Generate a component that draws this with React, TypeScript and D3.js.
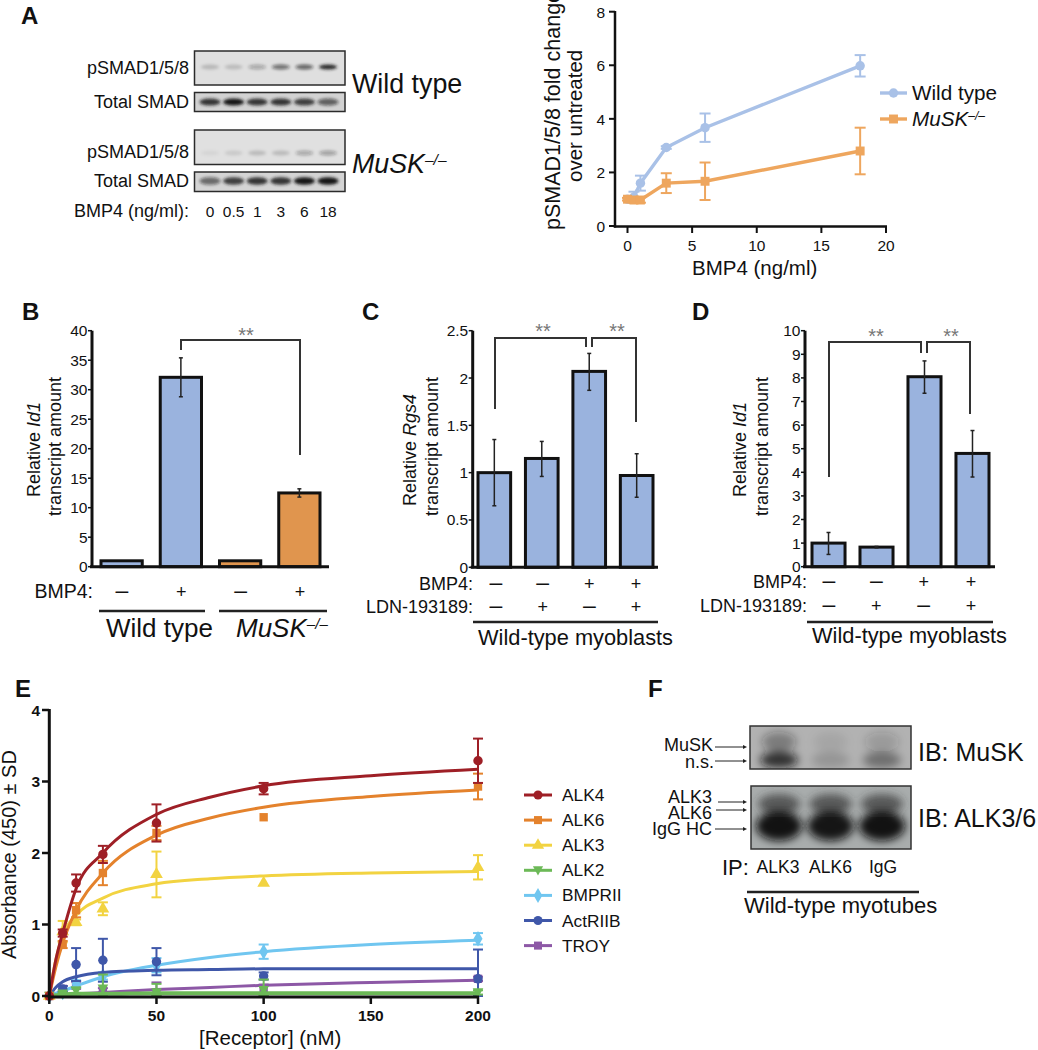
import React from "react";
import * as d3 from "d3";

const FONT = "'Liberation Sans', Arial, sans-serif";
const BLUE = "#9ab3de", ORANGE = "#e0954e", LBLUE = "#a9c1e7", LORANGE = "#eea65e";

// Panel A blots
const doseLabels = ["0", "0.5", "1", "3", "6", "18"];
const wtPhospho = [0.18, 0.16, 0.28, 0.55, 0.6, 0.92];
const wtTotal = [0.85, 1, 0.85, 0.85, 0.8, 0.6];
const koPhospho = [0.05, 0.1, 0.17, 0.17, 0.28, 0.32];
const koTotal = [0.55, 0.8, 0.85, 0.85, 1, 1];

// Panel A line chart
const doses = [0, 0.5, 1, 3, 6, 18];
const wtFold = [1, 1.08, 1.6, 2.93, 3.67, 5.98];
const wtFoldErr = [0, 0.2, 0.28, 0.05, 0.53, 0.4];
const koFold = [1, 0.97, 0.97, 1.6, 1.67, 2.8];
const koFoldErr = [0.05, 0.1, 0.1, 0.37, 0.7, 0.87];

// Panel B
const bVals = [1, 32.1, 1, 12.5];
const bLow = [1, 28.8, 1, 11.8];
const bHigh = [1, 35.4, 1, 13.2];
const bSigns = ["–", "+", "–", "+"];
const bColors = [BLUE, BLUE, ORANGE, ORANGE];

// Panel C
const cVals = [1, 1.15, 2.07, 0.97];
const cLow = [0.65, 0.96, 1.87, 0.74];
const cHigh = [1.35, 1.33, 2.26, 1.2];

// Panel D
const dVals = [1, 0.83, 8.05, 4.8];
const dLow = [0.52, 0.8, 7.35, 3.8];
const dHigh = [1.45, 0.86, 8.72, 5.77];

const bmpSigns = ["–", "–", "+", "+"];
const ldnSigns = ["–", "+", "–", "+"];

// Panel E
const concPts = [0, 6.25, 12.5, 25, 50, 100, 200];
const curveX = [0, 3, 6.25, 12.5, 25, 50, 75, 100, 150, 200];
const receptors = ["ALK4", "ALK6", "ALK3", "ALK2", "BMPRII", "ActRIIB", "TROY"];
const drawOrder = [6, 4, 5, 3, 2, 1, 0];
const recColors = ["#9e1f26", "#e4822c", "#f2d341", "#6cb957", "#70c6f0", "#3f57a9", "#8d58a6"];
const recSymbols = [d3.symbolCircle, d3.symbolSquare, d3.symbolTriangle, "down", d3.symbolDiamond, d3.symbolCircle, d3.symbolSquare];
const alk4Pts = [0, 0.88, 1.58, 1.98, 2.42, 2.9, 3.29];
const alk4Err = [0, 0.05, 0.12, 0.12, 0.26, 0.08, 0.31];
const alk4Fit = [0, 0.5, 0.88, 1.5, 2.0, 2.54, 2.78, 2.94, 3.08, 3.17];
const alk6Pts = [0, 0.72, 1.2, 1.72, 2.28, 2.5, 2.93];
const alk6Err = [0, 0.05, 0.1, 0.17, 0.1, 0, 0.18];
const alk6Fit = [0, 0.4, 0.74, 1.2, 1.72, 2.25, 2.49, 2.64, 2.79, 2.88];
const alk3Pts = [0, 0.9, 1.03, 1.22, 1.7, 1.58, 1.8];
const alk3Err = [0, 0.15, 0.04, 0.09, 0.32, 0, 0.17];
const alk3Fit = [0, 0.5, 0.85, 1.13, 1.37, 1.57, 1.64, 1.68, 1.72, 1.74];
const alk2Pts = [0, 0.03, 0.07, 0.1, 0.05, 0.08, 0.05];
const alk2Err = [0, 0.02, 0.05, 0.2, 0.12, 0.15, 0.03];
const alk2Fit = [0, 0.01, 0.02, 0.03, 0.03, 0.04, 0.04, 0.04, 0.04, 0.04];
const bmprPts = [0, 0.05, 0.17, 0.28, 0.43, 0.62, 0.8];
const bmprErr = [0, 0.03, 0.05, 0.05, 0.1, 0.1, 0.08];
const bmprFit = [0, 0.04, 0.07, 0.14, 0.27, 0.43, 0.54, 0.62, 0.72, 0.78];
const actrPts = [0, 0.1, 0.44, 0.5, 0.48, 0.28, 0.24];
const actrErr = [0, 0.04, 0.23, 0.3, 0.19, 0.05, 0.41];
const actrFit = [0, 0.12, 0.2, 0.27, 0.33, 0.36, 0.37, 0.38, 0.38, 0.38];
const troyPts = [0, 0.1, 0.15, 0.08, 0.05, 0.08, 0.24];
const troyErr = [0, 0.04, 0.05, 0.03, 0.14, 0.08, 0.03];
const troyFit = [0, 0.01, 0.02, 0.03, 0.05, 0.09, 0.12, 0.15, 0.19, 0.22];
const recPts = [alk4Pts, alk6Pts, alk3Pts, alk2Pts, bmprPts, actrPts, troyPts];
const recErr = [alk4Err, alk6Err, alk3Err, alk2Err, bmprErr, actrErr, troyErr];
const recFit = [alk4Fit, alk6Fit, alk3Fit, alk2Fit, bmprFit, actrFit, troyFit];

// Panel F
const ipLabels = ["ALK3", "ALK6", "IgG"];
const muskBand = [0.8, 0.16, 0.38];
const alkBand = [0.97, 0.95, 0.97];

const T = ({ x, y, s = 18, a = "start", w = 400, i = false, c = "#111", r, children }: any) => (
  <text x={x} y={y} fontSize={s} textAnchor={a} fontWeight={w} fontStyle={i ? "italic" : "normal"} fill={c}
    fontFamily={FONT} transform={r ? `rotate(${r} ${x} ${y})` : undefined}>{children}</text>
);

const Sign = ({ x, y, v }: any) => <T x={x} y={y} s={v === "+" ? 18 : 23} a="middle">{v}</T>;

const Musk = ({ x, y, s }: any) => (
  <text x={x} y={y} fontSize={s} fontStyle="italic" fill="#111" fontFamily={FONT}>
    MuSK<tspan fontSize={s * 0.58} dy={-s * 0.3}>–/–</tspan>
  </text>
);

const Blot = ({ id, x, y, w, h, bg, bands, centers, by, rx, ry }: any) => (
  <g>
    <clipPath id={id}><rect x={x} y={y} width={w} height={h} /></clipPath>
    <g clipPath={`url(#${id})`}>
      <rect x={x} y={y} width={w} height={h} fill={bg} />
      <g filter="url(#blur)">
        {bands.map((b: number, i: number) => (
          <ellipse key={i} cx={centers(i)} cy={by} rx={rx} ry={ry} fill="#151515" opacity={b} />
        ))}
      </g>
    </g>
    <rect x={x} y={y} width={w} height={h} fill="none" stroke="#2b2b2b" strokeWidth={1.5} />
  </g>
);

const Bars = ({ vals, low, high, colors, yMax, ticks, axisX, top, bottom, end, left, right }: any) => {
  const y = d3.scaleLinear().domain([0, yMax]).range([bottom, top]);
  const x = d3.scaleBand<number>().domain(d3.range(vals.length)).range([left, right]).paddingInner(0.27);
  return (
    <g>
      {vals.map((v: number, i: number) => (
        <rect key={i} x={x(i)! + 1} y={y(v)} width={x.bandwidth() - 2} height={bottom - y(v)}
          fill={colors[i]} stroke="#111" strokeWidth={3} />
      ))}
      {vals.map((v: number, i: number) => {
        const cx = x(i)! + x.bandwidth() / 2;
        if (high[i] === low[i]) return null;
        return (
          <g key={i} stroke="#222" strokeWidth={1.5}>
            <line x1={cx} x2={cx} y1={y(low[i])} y2={y(high[i])} />
            <line x1={cx - 2} x2={cx + 2} y1={y(low[i])} y2={y(low[i])} />
            <line x1={cx - 2} x2={cx + 2} y1={y(high[i])} y2={y(high[i])} />
          </g>
        );
      })}
      <line x1={axisX} x2={axisX} y1={top} y2={bottom + 1} stroke="#111" strokeWidth={3} />
      <line x1={axisX - 2} x2={end} y1={bottom} y2={bottom} stroke="#111" strokeWidth={3} />
      {ticks.map((t: number) => (
        <g key={t}>
          <line x1={axisX - 4} x2={axisX} y1={y(t)} y2={y(t)} stroke="#111" strokeWidth={1.5} />
          <T x={axisX - 4.5} y={y(t) + 5.5} s={15.5} a="end">{t}</T>
        </g>
      ))}
    </g>
  );
};

const Stars = ({ x, y }: any) => <T x={x} y={y} s={20} a="middle" c="#777">**</T>;
const Path = ({ d }: any) => <path d={d} fill="none" stroke="#333" strokeWidth={2} />;

const LineChart = () => {
  const x = d3.scaleLinear().domain([0, 20]).range([627.5, 886]);
  const y = d3.scaleLinear().domain([0, 8]).range([226, 11.7]);
  const line = d3.line<number>().x((_, i) => x(doses[i])).y((v) => y(v));
  const sym = (t: any, cx: number, cy: number, sz: number, c: string) => (
    <path d={d3.symbol().type(t).size(sz)() as string} transform={`translate(${cx},${cy})`} fill={c} />
  );
  const series = [
    { v: wtFold, e: wtFoldErr, c: LBLUE, t: d3.symbolCircle, z: 70 },
    { v: koFold, e: koFoldErr, c: LORANGE, t: d3.symbolSquare, z: 80 },
  ];
  return (
    <g>
      {series.map((s, k) => (
        <g key={k}>
          <path d={line(s.v) as string} fill="none" stroke={s.c} strokeWidth={3.4} />
          {s.v.map((v, i) => s.e[i] > 0 && (
            <g key={i} stroke={s.c} strokeWidth={2}>
              <line x1={x(doses[i])} x2={x(doses[i])} y1={y(v - s.e[i])} y2={y(v + s.e[i])} />
              <line x1={x(doses[i]) - 5.5} x2={x(doses[i]) + 5.5} y1={y(v - s.e[i])} y2={y(v - s.e[i])} />
              <line x1={x(doses[i]) - 5.5} x2={x(doses[i]) + 5.5} y1={y(v + s.e[i])} y2={y(v + s.e[i])} />
            </g>
          ))}
          {s.v.map((v, i) => <g key={i}>{sym(s.t, x(doses[i]), y(v), s.z, s.c)}</g>)}
        </g>
      ))}
      <line x1={615} x2={615} y1={11} y2={227.5} stroke="#111" strokeWidth={2.5} />
      <line x1={613.8} x2={887} y1={226.5} y2={226.5} stroke="#111" strokeWidth={2.5} />
      {y.ticks(4).map((t) => (
        <g key={t}>
          <line x1={609} x2={615} y1={y(t)} y2={y(t)} stroke="#111" strokeWidth={2} />
          <T x={605} y={y(t) + 6} s={15.5} a="end">{t}</T>
        </g>
      ))}
      {x.ticks(4).map((t) => (
        <g key={t}>
          <line x1={x(t)} x2={x(t)} y1={226} y2={233} stroke="#111" strokeWidth={2} />
          <T x={x(t)} y={251} s={15.5} a="middle">{t}</T>
        </g>
      ))}
      <T x={692} y={275} s={20.5}>BMP4 (ng/ml)</T>
      <T x={559.5} y={230} s={21.5} r={-90}>pSMAD1/5/8 fold change</T>
      <T x={582} y={182} s={20.5} r={-90}>over untreated</T>
      <line x1={880} x2={907} y1={93} y2={93} stroke={LBLUE} strokeWidth={3.4} />
      {sym(d3.symbolCircle, 893.5, 93, 70, LBLUE)}
      <line x1={880} x2={907} y1={119} y2={119} stroke={LORANGE} strokeWidth={3.4} />
      {sym(d3.symbolSquare, 893.5, 119, 80, LORANGE)}
      <T x={912} y={100} s={20.7}>Wild type</T>
      <Musk x={912} y={126} s={20.7} />
    </g>
  );
};

const downTri = {
  draw(ctx: any, size: number) {
    const h = Math.sqrt(size * 1.6);
    ctx.moveTo(-h / 2, -h * 0.4);
    ctx.lineTo(h / 2, -h * 0.4);
    ctx.lineTo(0, h * 0.5);
    ctx.closePath();
  },
};

const Binding = () => {
  const x = d3.scaleLinear().domain([0, 200]).range([49.3, 478]);
  const y = d3.scaleLinear().domain([0, 4]).range([996, 710]);
  const curve = d3.line<number>().x((_, i) => x(curveX[i])).y((v) => y(v)).curve(d3.curveMonotoneX);
  const sym = (k: number, sz: number) =>
    d3.symbol().type((recSymbols[k] === "down" ? downTri : recSymbols[k]) as any).size(sz)() as string;
  return (
    <g>
      {drawOrder.map((k) => (
        <g key={receptors[k]}>
          <path d={curve(recFit[k]) as string} fill="none" stroke={recColors[k]} strokeWidth={k === 3 ? 4 : 3} />
          {recPts[k].map((v, i) => recErr[k][i] > 0 && (
            <g key={i} stroke={recColors[k]} strokeWidth={2}>
              <line x1={x(concPts[i])} x2={x(concPts[i])} y1={Math.min(y(v - recErr[k][i]), 996)} y2={y(v + recErr[k][i])} />
              <line x1={x(concPts[i]) - 5} x2={x(concPts[i]) + 5} y1={Math.min(y(v - recErr[k][i]), 996)} y2={Math.min(y(v - recErr[k][i]), 996)} />
              <line x1={x(concPts[i]) - 5} x2={x(concPts[i]) + 5} y1={y(v + recErr[k][i])} y2={y(v + recErr[k][i])} />
            </g>
          ))}
          {recPts[k].map((v, i) => (
            <path key={i} d={sym(k, 70)} transform={`translate(${x(concPts[i])},${y(v)})`} fill={recColors[k]} />
          ))}
          <line x1={524} x2={552} y1={795 + k * 25.1} y2={795 + k * 25.1} stroke={recColors[k]} strokeWidth={3} />
          <path d={sym(k, 65)} transform={`translate(538,${795 + k * 25.1})`} fill={recColors[k]} />
          <T x={562} y={801 + k * 25.1} s={17.3}>{receptors[k]}</T>
        </g>
      ))}
      <line x1={49.3} x2={49.3} y1={709} y2={998} stroke="#111" strokeWidth={3} />
      <line x1={48} x2={479} y1={997} y2={997} stroke="#111" strokeWidth={3} />
      {y.ticks(4).map((t) => (
        <g key={t}>
          <line x1={42} x2={49} y1={y(t)} y2={y(t)} stroke="#111" strokeWidth={2.5} />
          <T x={40} y={y(t) + 5.5} s={15.5} a="end" w={700}>{t}</T>
        </g>
      ))}
      {x.ticks(4).map((t) => (
        <g key={t}>
          <line x1={x(t)} x2={x(t)} y1={997} y2={1004} stroke="#111" strokeWidth={2.5} />
          <T x={x(t)} y={1021} s={15.5} a="middle" w={700}>{t}</T>
        </g>
      ))}
      <T x={16} y={959} s={20} r={-90}>Absorbance (450) ± SD</T>
      <T x={199} y={1045} s={20.5}>[Receptor] (nM)</T>
    </g>
  );
};

export default function App() {
  const lanes = d3.scalePoint<number>().domain(d3.range(6)).range([210, 328]);
  const ipLanes = d3.scalePoint<number>().domain(d3.range(3)).range([779, 882]);
  const sc = d3.scaleLinear().domain([0, 3]).range([496, 636]);
  const sd = d3.scaleLinear().domain([0, 3]).range([829, 971]);
  const sb = d3.scaleLinear().domain([0, 3]).range([122, 300]);
  return (
    <svg width={1038} height={1050} viewBox="0 0 1038 1050" style={{ position: "absolute", left: 0, top: 0, background: "#fff" }}>
      <defs>
        <filter id="blur" x="-20%" y="-60%" width="140%" height="220%"><feGaussianBlur stdDeviation="1.6" /></filter>
        <filter id="blurF" x="-30%" y="-50%" width="160%" height="200%"><feGaussianBlur stdDeviation="4.5" /></filter>
      </defs>

      <T x={21} y={24} s={24} w={700}>A</T>
      <T x={22} y={320} s={24} w={700}>B</T>
      <T x={362} y={320} s={24} w={700}>C</T>
      <T x={692} y={320} s={24} w={700}>D</T>
      <T x={15} y={697} s={24} w={700}>E</T>
      <T x={648} y={697} s={24} w={700}>F</T>

      <Blot id="b1" x={194.5} y={51} w={150.5} h={34} bg="#dfdfdf" bands={wtPhospho} centers={lanes} by={67} rx={9} ry={2.6} />
      <Blot id="b2" x={194.5} y={92.5} w={150.5} h={19} bg="#d2d2d2" bands={wtTotal} centers={lanes} by={102} rx={10.5} ry={3.6} />
      <Blot id="b3" x={194.5} y={130} w={150.5} h={34.5} bg="#e0e0e0" bands={koPhospho} centers={lanes} by={153} rx={9} ry={2.6} />
      <Blot id="b4" x={194.5} y={172} w={150.5} h={19.5} bg="#d4d4d4" bands={koTotal} centers={lanes} by={181} rx={10.5} ry={3.8} />
      <T x={189} y={74} a="end">pSMAD1/5/8</T>
      <T x={189} y={108} a="end">Total SMAD</T>
      <T x={189} y={158} a="end">pSMAD1/5/8</T>
      <T x={189} y={187} a="end">Total SMAD</T>
      <T x={352} y={93} s={26.8}>Wild type</T>
      <Musk x={352} y={173} s={26.8} />
      <T x={74} y={217}>BMP4 (ng/ml):</T>
      {doseLabels.map((d, i) => <T key={d} x={lanes(i)} y={217} s={15.5} a="middle">{d}</T>)}

      <LineChart />

      {/* B */}
      <Bars vals={bVals} low={bLow} high={bHigh} colors={bColors} yMax={40} ticks={d3.range(0, 41, 5)}
        axisX={92} top={330.7} bottom={566.7} end={329} left={100} right={321} />
      <Path d="M181 350V340H300V455" />
      <Stars x={246} y={342} />
      <T x={93} y={598} s={19.5} a="end">BMP4:</T>
      {bSigns.map((s, i) => <Sign key={i} x={sb(i)} y={598} v={s} />)}
      <line x1={99} x2={205} y1={611} y2={611} stroke="#222" strokeWidth={2.5} />
      <line x1={219} x2={327} y1={611} y2={611} stroke="#222" strokeWidth={2.5} />
      <T x={106} y={637} s={26}>Wild type</T>
      <Musk x={236} y={637} s={26} />
      <T x={39.5} y={497} s={18} r={-90}>Relative <tspan fontStyle="italic">Id1</tspan></T>
      <T x={61} y={516} s={18} r={-90}>transcript amount</T>

      {/* C */}
      <Bars vals={cVals} low={cLow} high={cHigh} colors={[BLUE, BLUE, BLUE, BLUE]} yMax={2.5} ticks={[0, 0.5, 1, 1.5, 2, 2.5]}
        axisX={472.7} top={330.7} bottom={567.3} end={658} left={477} right={654} />
      <Path d="M495 409V338H586V347" />
      <Path d="M592 347V338H636V422" />
      <Stars x={543} y={338} />
      <Stars x={617} y={338} />
      <T x={473} y={590} a="end">BMP4:</T>
      <T x={473} y={613} a="end">LDN-193189:</T>
      {bmpSigns.map((s, i) => <Sign key={i} x={sc(i)} y={590} v={s} />)}
      {ldnSigns.map((s, i) => <Sign key={i} x={sc(i)} y={613} v={s} />)}
      <line x1={473} x2={658} y1={622} y2={622} stroke="#222" strokeWidth={2.5} />
      <T x={478} y={645} s={21.8}>Wild-type myoblasts</T>
      <T x={416} y={506} s={18} r={-90}>Relative <tspan fontStyle="italic">Rgs4</tspan></T>
      <T x={438} y={516} s={18} r={-90}>transcript amount</T>

      {/* D */}
      <Bars vals={dVals} low={dLow} high={dHigh} colors={[BLUE, BLUE, BLUE, BLUE]} yMax={10} ticks={d3.range(0, 11)}
        axisX={805} top={330.7} bottom={566.7} end={995} left={811} right={990} />
      <Path d="M829 477V342H921V353" />
      <Path d="M927 353V342H970V414" />
      <Stars x={876} y={343} />
      <Stars x={951} y={343} />
      <T x={807} y={588} a="end">BMP4:</T>
      <T x={807} y={612} a="end">LDN-193189:</T>
      {bmpSigns.map((s, i) => <Sign key={i} x={sd(i)} y={588} v={s} />)}
      {ldnSigns.map((s, i) => <Sign key={i} x={sd(i)} y={612} v={s} />)}
      <line x1={807} x2={993} y1={622} y2={622} stroke="#222" strokeWidth={2.5} />
      <T x={812} y={643} s={21.8}>Wild-type myoblasts</T>
      <T x={746} y={497} s={18} r={-90}>Relative <tspan fontStyle="italic">Id1</tspan></T>
      <T x={768} y={516} s={18} r={-90}>transcript amount</T>

      <Binding />

      {/* F */}
      <clipPath id="f1"><rect x={750} y={726} width={161} height={43} /></clipPath>
      <g clipPath="url(#f1)">
        <rect x={750} y={726} width={161} height={43} fill="#b2b2b2" />
        <g filter="url(#blurF)">
          {muskBand.map((b, i) => (
            <g key={i}>
              <ellipse cx={ipLanes(i)} cy={742} rx={17} ry={10} fill="#222" opacity={b * 0.45} />
              <ellipse cx={ipLanes(i)} cy={760} rx={19} ry={8} fill="#111" opacity={b} />
            </g>
          ))}
        </g>
      </g>
      <rect x={750} y={726} width={161} height={43} fill="none" stroke="#333" strokeWidth={1.5} />
      <clipPath id="f2"><rect x={751} y={786} width={160} height={63} /></clipPath>
      <g clipPath="url(#f2)">
        <rect x={751} y={786} width={160} height={63} fill="#a9adad" />
        <g filter="url(#blurF)">
          {alkBand.map((b, i) => (
            <g key={i}>
              <ellipse cx={ipLanes(i)} cy={804} rx={21} ry={10} fill="#333" opacity={0.7} />
              <ellipse cx={ipLanes(i)} cy={826} rx={23} ry={15} fill="#0c0c0c" opacity={b} />
            </g>
          ))}
        </g>
      </g>
      <rect x={751} y={786} width={160} height={63} fill="none" stroke="#333" strokeWidth={1.5} />
      <T x={713} y={751} a="end">MuSK</T>
      <T x={714} y={768} a="end">n.s.</T>
      <T x={712} y={803} a="end">ALK3</T>
      <T x={712} y={819} a="end">ALK6</T>
      <T x={712} y={835} a="end">IgG HC</T>
      {[[715, 747], [715, 761], [718, 802], [716, 810], [715, 829]].map(([x0, y0], i) => (
        <g key={i}>
          <line x1={x0} x2={745} y1={y0} y2={y0} stroke="#222" strokeWidth={1} />
          <path d={`M747 ${y0}l-4 -2v4z`} fill="#222" />
        </g>
      ))}
      <T x={918} y={761} s={25}>IB: MuSK</T>
      <T x={918} y={827} s={25}>IB: ALK3/6</T>
      <T x={722} y={875} s={22}>IP:</T>
      {ipLabels.map((l, i) => (
        <T key={l} x={d3.scalePoint<number>().domain(d3.range(3)).range([778, 883])(i)} y={873} s={17.5} a="middle">{l}</T>
      ))}
      <line x1={747} x2={919} y1={892} y2={892} stroke="#222" strokeWidth={2.5} />
      <T x={744} y={913} s={22}>Wild-type myotubes</T>
    </svg>
  );
}
